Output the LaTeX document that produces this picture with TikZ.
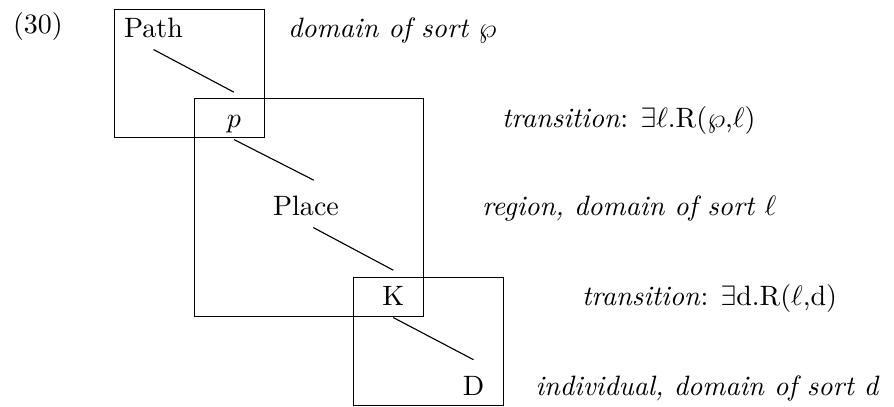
\documentclass[tikz,border=0pt]{standalone}
\usetikzlibrary{positioning}
\begin{document}
\begin{tikzpicture}[
  x=0.357pt, y=-0.357pt,
  box/.style={draw, line width=0.4pt},
  term/.style={anchor=base, inner xsep=0pt, inner ysep=4pt, text height=8.4pt, text depth=0.1pt},
  gloss/.style={anchor=base west, inner sep=0pt},
  link/.style={line width=0.4pt},
]
\useasboundingbox (0,0) rectangle (894,406);

\draw[box] (114.3,9.3)   rectangle (264.3,137.3);
\draw[box] (194.3,98.7)  rectangle (423.3,316.7);
\draw[box] (353.3,277.3) rectangle (503.3,405.3);

\node[gloss] (ex) at (12.5,33) {(30)};

\node[term] (path)  at (153.5,37.5) {Path};
\node[term] (p)     at (234,127.5)  {$p$};
\node[term] (place) at (306,215.5)  {Place};
\node[term] (k)     at (393.3,305.5) {K};
\node[term] (d)     at (473.5,395)  {D};

\draw[link] (path.south) -- (p.north);
\draw[link] (p.south) -- ([xshift=2.8pt]place.north);
\draw[link] ([xshift=2.6pt]place.south) -- (k.north);
\draw[link] (k.south) -- (d.north);

\node[gloss] (g1) at (287.5,37.5) {\textit{domain of sort} $\wp$};
\node[gloss] (g2) at (501.5,127.5) {\textit{transition}: $\exists\ell$.R($\wp$,$\ell$)};
\node[gloss] (g3) at (481.5,215.5) {\textit{region, domain of sort} $\ell$};
\node[gloss] (g4) at (581.5,305.5) {\textit{transition}: $\exists$d.R($\ell$,d)};
\node[gloss] (g5) at (535,395) {\textit{individual, domain of sort d}};
\end{tikzpicture}
\end{document}
